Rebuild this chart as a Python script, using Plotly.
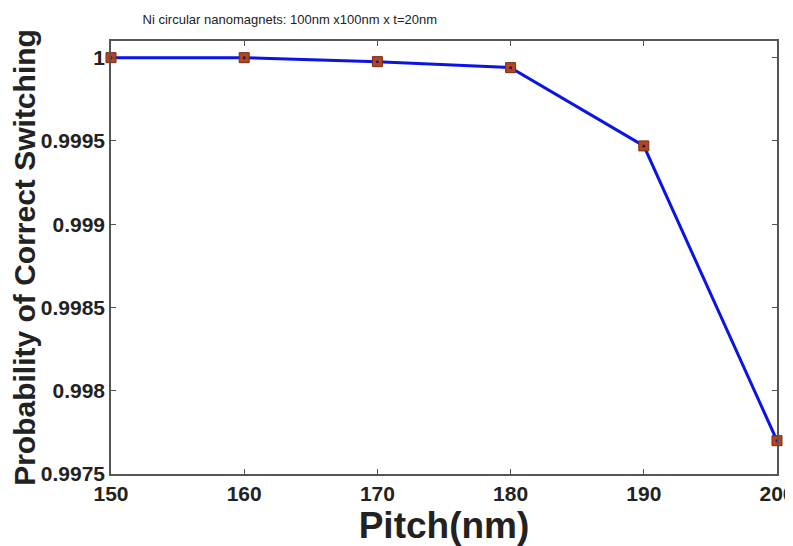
import plotly.graph_objects as go

pitch = [150, 160, 170, 180, 190, 200]
prob = [1.0, 1.0, 0.999976, 0.99994, 0.99947, 0.99770]
x_ticks = [150, 160, 170, 180, 190, 200]
y_ticks = [0.9975, 0.998, 0.9985, 0.999, 0.9995, 1.0]
y_tick_text = ["0.9975", "0.998", "0.9985", "0.999", "0.9995", "1"]

fig = go.Figure()
fig.add_trace(go.Scatter(
    x=pitch, y=prob, mode="lines+markers",
    line=dict(color="#0a14e6", width=3),
    marker=dict(symbol="square", size=10, color="#b4461e",
                line=dict(color="#7a2a10", width=1)),
    cliponaxis=False, showlegend=False))
fig.add_trace(go.Scatter(
    x=pitch, y=prob, mode="markers",
    marker=dict(symbol="circle", size=3, color="#1a1a80"),
    cliponaxis=False, showlegend=False))

axis_common = dict(showline=True, linecolor="#555", linewidth=1.5, mirror="ticks",
                   ticks="inside", ticklen=5, tickcolor="#555", showgrid=False,
                   zeroline=False, ticklabeloverflow="allow")
fig.update_layout(
    width=785, height=538,
    paper_bgcolor="white", plot_bgcolor="white",
    margin=dict(l=103, r=16, t=33, b=70),
    font=dict(family="Liberation Sans, Arial", color="#222"),
    title=dict(text="Ni circular nanomagnets: 100nm x100nm x t=20nm",
               x=0.359, xanchor="center", y=0.987, yanchor="top",
               font=dict(size=13, color="#222")),
    xaxis=dict(range=[150, 200], tickvals=x_ticks, automargin="height+bottom",
               tickfont=dict(size=21, weight="bold"),
               title=dict(text="Pitch(nm)", standoff=3,
                          font=dict(size=37, weight="bold")),
               **axis_common),
    yaxis=dict(range=[0.9975, 1.0001], tickvals=y_ticks, ticktext=y_tick_text,
               automargin="width+left",
               tickfont=dict(size=21, weight="bold"),
               title=dict(text="Probability of Correct Switching", standoff=0,
                          font=dict(size=30, weight="bold")),
               **axis_common),
)
fig.write_html("out.html")
